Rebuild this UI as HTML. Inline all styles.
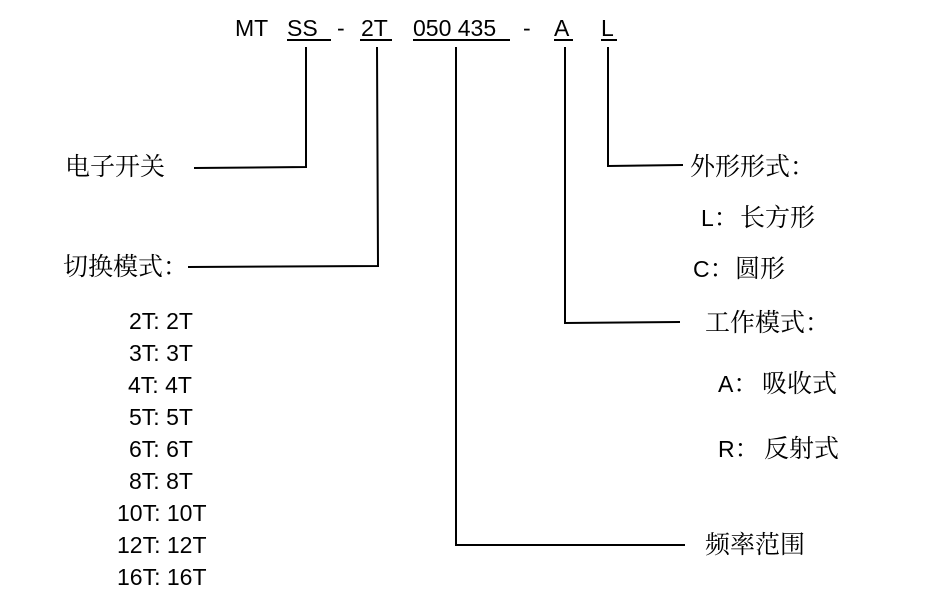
<!DOCTYPE html>
<html><head><meta charset="utf-8"><style>
html,body{margin:0;padding:0;background:#fff;width:929px;height:609px;overflow:hidden}
svg{display:block}
.l{font-family:"Liberation Sans",sans-serif;font-size:23px;fill:#000}
.c{font-family:"Noto Serif CJK SC","Noto Sans CJK SC",serif;font-size:25px;fill:#000}
.c tspan.e{font-family:"Liberation Sans",sans-serif;font-size:23px}
</style></head><body>
<svg width="929" height="609" xmlns="http://www.w3.org/2000/svg">
<g class="l">
<text x="235" y="36">MT</text>
<text x="287" y="36">SS</text>
<text x="337" y="36">-</text>
<text x="361" y="36">2T</text>
<text x="413" y="36">050 435</text>
<text x="523" y="36">-</text>
<text x="554" y="36">A</text>
<text x="601" y="36">L</text>
</g>
<g stroke="#000" stroke-width="2" fill="none">
<line x1="287" y1="40" x2="331" y2="40"/>
<line x1="360" y1="40" x2="392" y2="40"/>
<line x1="413" y1="40" x2="510" y2="40"/>
<line x1="554" y1="40" x2="573" y2="40"/>
<line x1="601" y1="40" x2="617" y2="40"/>
<polyline points="306,47 306,167 194,168"/>
<polyline points="377,47 378,266 188,267"/>
<polyline points="456,47 456,545 685,545"/>
<polyline points="565,47 565,323 680,322"/>
<polyline points="608,47 608,166 683,165"/>
</g>
<g class="c">
<text x="65" y="175">电子开关</text>
<text x="63" y="275">切换模式：</text>
<text x="690" y="175">外形形式：</text>
<text x="701" y="226"><tspan class="e">L</tspan>：<tspan x="740">长方形</tspan></text>
<text x="693" y="277"><tspan class="e">C</tspan>：<tspan x="735">圆形</tspan></text>
<text x="705" y="331">工作模式：</text>
<text x="718" y="392"><tspan class="e">A</tspan>：<tspan x="762">吸收式</tspan></text>
<text x="718" y="457"><tspan class="e">R</tspan>：<tspan x="764">反射式</tspan></text>
<text x="705" y="553">频率范围</text>
</g>
<g class="l">
<text x="129" y="329">2T: 2T</text>
<text x="129" y="361">3T: 3T</text>
<text x="128" y="393">4T: 4T</text>
<text x="129" y="425">5T: 5T</text>
<text x="129" y="457">6T: 6T</text>
<text x="129" y="489">8T: 8T</text>
<text x="117" y="521">10T: 10T</text>
<text x="117" y="553">12T: 12T</text>
<text x="117" y="585">16T: 16T</text>
</g>
</svg>
</body></html>
